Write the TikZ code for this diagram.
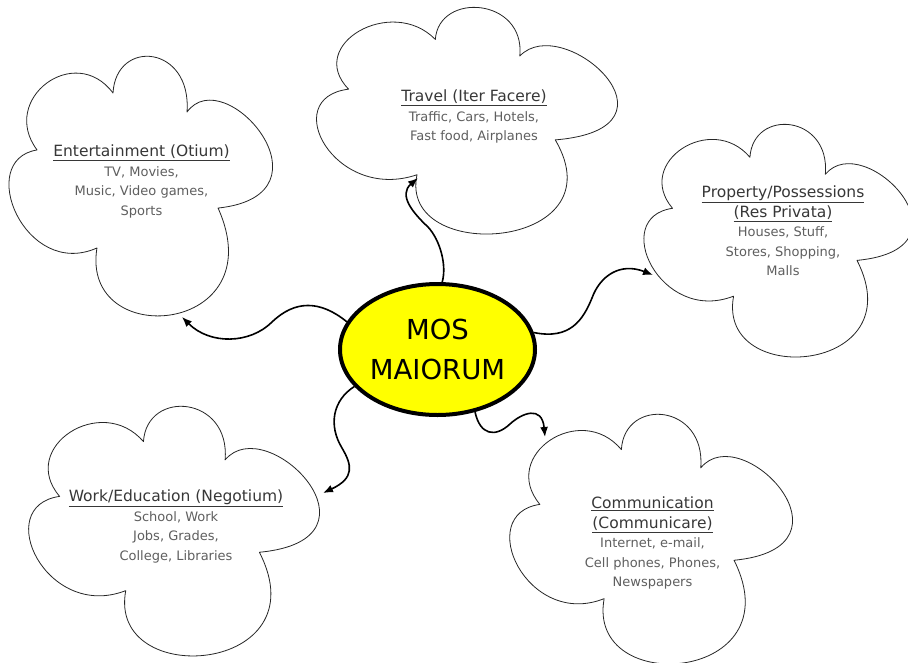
\documentclass[tikz,border=0pt]{standalone}
\usepackage{fontspec}
\setmainfont{DejaVu Sans}
\usetikzlibrary{shapes.geometric,arrows.meta}

\definecolor{mosyellow}{RGB}{255,255,0}
\definecolor{headgray}{RGB}{55,55,55}
\definecolor{bodygray}{RGB}{95,95,95}
\newcommand{\cloudhead}[1]{{\fontsize{15.5}{19.5}\selectfont\color{headgray}\underline{#1}}}

\tikzset{
  cloudline/.style={draw=black!85,line width=0.8pt,fill=white,line join=round},
  cloudtext/.style={align=center,anchor=north,inner sep=0pt,text=bodygray,
    font=\fontsize{13}{19.5}\selectfont},
  link/.style={line width=1.6pt,-{Latex[length=10pt,width=8pt]}},
  puffcloud/.pic={
    \draw[cloudline] (-0.808,-0.285)
      .. controls (-1.100,-0.677) and (-0.517,-1.115) .. (-0.226,-0.723)
      .. controls (-0.203,-1.146) and (0.379,-1.092) .. (0.341,-0.577)
      .. controls (0.632,-0.977) and (1.513,0.062) .. (0.579,0.162)
      .. controls (1.015,1.138) and (-0.479,1.269) .. (-0.349,0.469)
      .. controls (-0.900,0.715) and (-1.284,-0.208) .. (-0.808,-0.285) -- cycle;
  }
}

\begin{document}
\begin{tikzpicture}[x=1pt,y=-1pt]
  \useasboundingbox (0,0) rectangle (908,662);

  \pic[xscale=130.5,yscale=130] at (142.5,187) {puffcloud};
  \pic[xscale=149,yscale=113.5] at (469,121.5) {puffcloud};
  \pic[xscale=133,yscale=116.5] at (780,241.5) {puffcloud};
  \pic[xscale=144,yscale=125] at (176,532) {puffcloud};
  \pic[xscale=140,yscale=125] at (653,540) {puffcloud};

  \node[cloudtext] (ent) at (141.5,145)
    {\cloudhead{Entertainment (Otium)}\\TV, Movies,\\Music, Video games,\\Sports};
  \node[cloudtext] (trav) at (474,90)
    {\cloudhead{Travel (Iter Facere)}\\Traffic, Cars, Hotels,\\Fast food, Airplanes};
  \node[cloudtext] (prop) at (783,186)
    {\cloudhead{Property/Possessions}\\\cloudhead{(Res Privata)}\\Houses, Stuff,\\Stores, Shopping,\\Malls};
  \node[cloudtext] (work) at (176,490)
    {\cloudhead{Work/Education (Negotium)}\\School, Work\\Jobs, Grades,\\College, Libraries};
  \node[cloudtext] (comm) at (652.5,497)
    {\cloudhead{Communication}\\\cloudhead{(Communicare)}\\Internet, e-mail,\\Cell phones, Phones,\\Newspapers};

  \node[ellipse,draw,line width=4pt,fill=mosyellow,minimum width=195pt,minimum height=131pt,
    inner sep=0pt,align=center,font=\fontsize{27.5}{40}\selectfont] (mos) at (437.5,349.5)
    {MOS\\MAIORUM};

  \coordinate (entin) at (182,317);
  \coordinate (travin) at (418,178);
  \coordinate (propin) at (653,275);
  \coordinate (workin) at (323,493);
  \coordinate (commin) at (545,437);

  \draw[link] (mos.163) .. controls (320,300) and (295,300) .. (272,322)
    .. controls (250,344) and (210,345) .. (entin);
  \draw[link] (mos.86) .. controls (447,265) and (440,240) .. (428,227)
    .. controls (413,213) and (398,195) .. (travin);
  \draw[link] (mos.10) .. controls (570,340) and (583,320) .. (592,298)
    .. controls (600,276) and (620,262) .. (propin);
  \draw[link] (mos.204) .. controls (333,400) and (328,425) .. (342,448)
    .. controls (352,465) and (355,478) .. (workin);
  \draw[link] (mos.301) .. controls (480,435) and (495,438) .. (510,424)
    .. controls (522,413) and (542,405) .. (commin);
\end{tikzpicture}
\end{document}
